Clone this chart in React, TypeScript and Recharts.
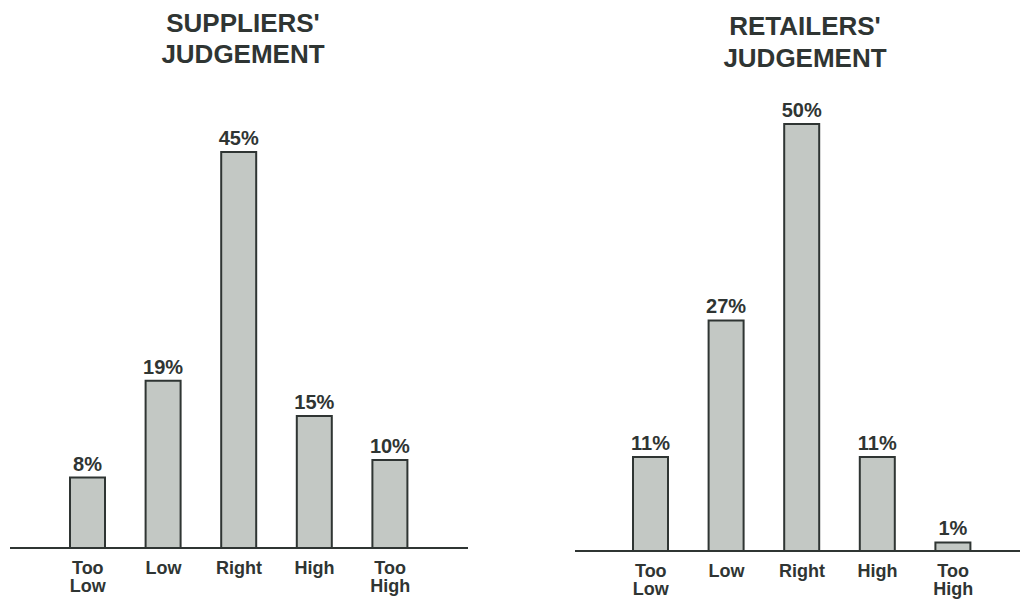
import React from 'react';
import { BarChart, Bar, XAxis, YAxis, LabelList } from 'recharts';

const categories = ['Too Low', 'Low', 'Right', 'High', 'Too High'];
const suppliersValues = [8, 19, 45, 15, 10];
const retailersValues = [11, 27, 50, 11, 1];

const suppliersData = categories.map((c, i) => ({ name: c, value: suppliersValues[i] }));
const retailersData = categories.map((c, i) => ({ name: c, value: retailersValues[i] }));

const FONT = '"Liberation Sans", Arial, Helvetica, sans-serif';
const INK = '#2f3533';
const BAR_FILL = '#c3c8c4';

const CategoryTick = (props: any) => {
  const { x, y, payload } = props;
  const lines = String(payload.value).split(' ');
  return (
    <text
      x={x}
      y={y + 26}
      textAnchor="middle"
      fill={INK}
      fontFamily={FONT}
      fontWeight="bold"
      fontSize={18}
    >
      {lines.map((l, i) => (
        <tspan key={i} x={x} dy={i === 0 ? 0 : 18}>
          {l}
        </tspan>
      ))}
    </text>
  );
};

interface PanelProps {
  data: { name: string; value: number }[];
  width: number;
  top: number;
  maxValue: number;
  axisHeight: number;
  margin: { left: number; right: number };
  padding: { left: number; right: number };
}

const Panel: React.FC<PanelProps> = ({ data, width, top, maxValue, axisHeight, margin, padding }) => (
  <BarChart
    width={width}
    height={600}
    data={data}
    margin={{ top, left: margin.left, right: margin.right, bottom: 0 }}
    barCategoryGap={0}
  >
    <XAxis
      dataKey="name"
      height={axisHeight}
      padding={padding}
      axisLine={{ stroke: INK, strokeWidth: 2 }}
      tickLine={false}
      tickSize={0}
      tickMargin={0}
      interval={0}
      tick={<CategoryTick />}
    />
    <YAxis hide domain={[0, maxValue]} />
    <Bar
      dataKey="value"
      fill={BAR_FILL}
      stroke={INK}
      strokeWidth={2}
      barSize={35}
      isAnimationActive={false}
    >
      <LabelList
        dataKey="value"
        position="top"
        offset={7}
        formatter={(v: any) => `${v}%`}
        fill={INK}
        fontFamily={FONT}
        fontWeight="bold"
        fontSize={20}
      />
    </Bar>
  </BarChart>
);

const titleStyle: React.CSSProperties = {
  position: 'absolute',
  width: 300,
  textAlign: 'center',
  fontFamily: FONT,
  fontWeight: 'bold',
  fontSize: 26,
  color: INK,
};

export default function App() {
  return (
    <div
      style={{
        position: 'fixed',
        left: 0,
        top: 0,
        width: 1020,
        height: 600,
        background: '#ffffff',
        overflow: 'hidden',
      }}
    >
      <div style={{ ...titleStyle, left: 243 - 150, top: 8, lineHeight: '31px' }}>
        SUPPLIERS'
        <br />
        JUDGEMENT
      </div>
      <div style={{ ...titleStyle, left: 805 - 150, top: 10, lineHeight: '32px' }}>
        RETAILERS'
        <br />
        JUDGEMENT
      </div>
      <div style={{ position: 'absolute', left: 0, top: 0 }}>
        <Panel
          data={suppliersData}
          width={480}
          top={152}
          maxValue={45}
          axisHeight={52}
          margin={{ left: 10, right: 12 }}
          padding={{ left: 40, right: 40 }}
        />
      </div>
      <div style={{ position: 'absolute', left: 560, top: 0 }}>
        <Panel
          data={retailersData}
          width={460}
          top={124}
          maxValue={50}
          axisHeight={49}
          margin={{ left: 15, right: 0 }}
          padding={{ left: 38, right: 29 }}
        />
      </div>
    </div>
  );
}
